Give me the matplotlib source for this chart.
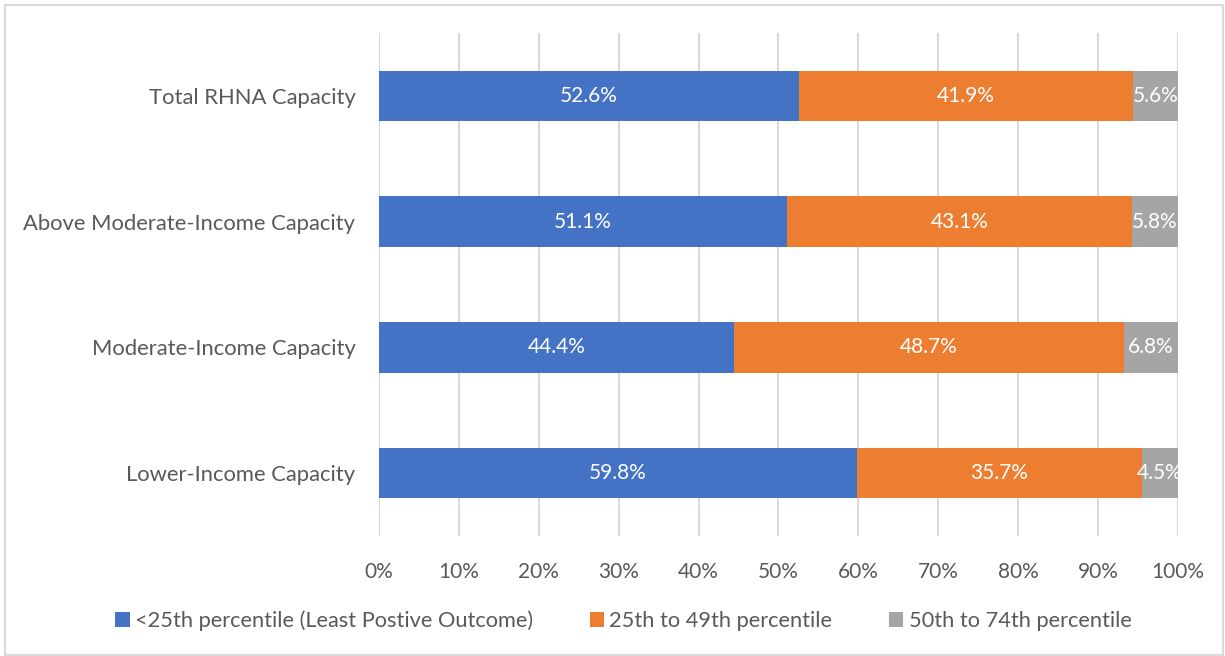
import matplotlib.pyplot as plt
from matplotlib.patches import Rectangle

categories = ["Lower-Income Capacity", "Moderate-Income Capacity",
              "Above Moderate-Income Capacity", "Total RHNA Capacity"]
series_names = ["<25th percentile (Least Postive Outcome)",
                "25th to 49th percentile", "50th to 74th percentile"]
below_25 = [59.8, 44.4, 51.1, 52.6]
p25_49 = [35.7, 48.7, 43.1, 41.9]
p50_74 = [4.5, 6.8, 5.8, 5.6]
tick_labels = ["0%", "10%", "20%", "30%", "40%", "50%", "60%", "70%", "80%", "90%", "100%"]

colors = ["#4472C4", "#ED7D31", "#A5A5A5"]
text_color = "#595959"

plt.rcParams['font.family'] = ['Lato', 'DejaVu Sans']

fig = plt.figure(figsize=(12.25, 6.56), dpi=100)
ax = fig.add_axes([0.3094, 0.1829, 0.6522, 0.7668])

series = [below_25, p25_49, p50_74]
totals = [sum(v) for v in zip(*series)]
left = [0.0] * len(categories)
for vals, name, col in zip(series, series_names, colors):
    widths = [v / t for v, t in zip(vals, totals)]
    bars = ax.barh(range(len(categories)), widths, left=left, height=0.4,
                   color=col, label=name, zorder=3)
    for b, v in zip(bars, vals):
        ax.text(b.get_x() + b.get_width() / 2, b.get_y() + b.get_height() / 2,
                f"{v:.1f}%", ha="center", va="center", color="white",
                fontsize=15, zorder=4)
    left = [l + w for l, w in zip(left, widths)]

ax.set_xlim(0, 1)
ax.set_ylim(-0.5, 3.5)
ax.set_xticks([i / 10 for i in range(11)])
ax.set_xticklabels(tick_labels)
ax.set_yticks(range(len(categories)))
ax.set_yticklabels(categories)
ax.tick_params(axis="both", length=0, labelcolor=text_color)
ax.tick_params(axis="x", pad=19, labelsize=15)
ax.tick_params(axis="y", pad=17, labelsize=15.8)
ax.grid(axis="x", color="#D9D9D9", linewidth=1.5, zorder=0)
for s in ax.spines.values():
    s.set_visible(False)

fig.legend(loc="center", bbox_to_anchor=(0.509, 0.0534), ncol=3, frameon=False,
           fontsize=15.7, labelcolor=text_color, handlelength=0.65, handleheight=0.65,
           handletextpad=0.25, columnspacing=2.6)

fig.patches.append(Rectangle((0.004, 0.002), 0.994, 0.991, transform=fig.transFigure,
                             fill=False, edgecolor="#D9D9D9", linewidth=1.5))

fig.savefig("out.png", dpi=100)
